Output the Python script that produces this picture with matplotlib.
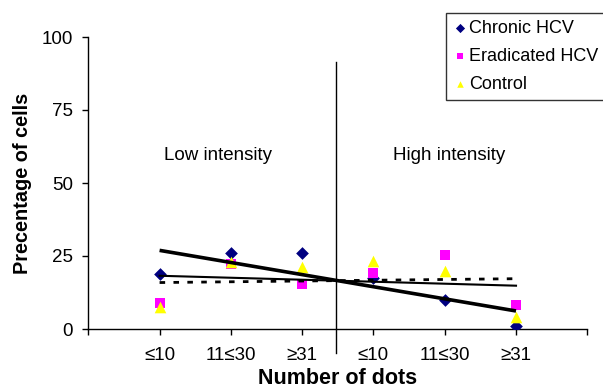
import numpy as np
import matplotlib
matplotlib.use("Agg")
import matplotlib.pyplot as plt

plt.rcParams['font.family'] = ['Liberation Sans', 'DejaVu Sans']

categories = ["≤10", "11≤30", "≥31", "≤10", "11≤30", "≥31"]
chronic = [18.7, 26.1, 26.1, 17.4, 9.9, 1.1]
eradicated = [9.0, 22.2, 15.4, 19.3, 25.3, 8.2]
control = [7.6, 23.0, 21.1, 23.3, 20.0, 4.2]
y_ticks = [0, 25, 50, 75, 100]

x = np.arange(1, len(categories) + 1)

fig = plt.figure(figsize=(6.03, 3.89), dpi=100)
ax = fig.add_axes([88.3 / 603, 1 - 329 / 389, (587.3 - 88.3) / 603, (329 - 37) / 389])

ax.scatter(x, chronic, marker='D', s=42, color='#000080', label='Chronic HCV', zorder=3, linewidths=0)
ax.scatter(x, eradicated, marker='s', s=48, color='#FF00FF', label='Eradicated HCV', zorder=3, linewidths=0)
ax.scatter(x, control, marker='^', s=70, color='#FFFF00', label='Control', zorder=3, linewidths=0)

# linear trend lines
xs = np.array([x[0], x[-1]])
p = np.polyfit(x, chronic, 1)
ax.plot(xs, np.polyval(p, xs), color='black', lw=2.6, zorder=4, solid_capstyle='butt')
p = np.polyfit(x, control, 1)
ax.plot(xs, np.polyval(p, xs), color='black', lw=1.5, zorder=4)
p = np.polyfit(x, eradicated, 1)
ax.plot(xs, np.polyval(p, xs), color='black', lw=2.0, ls=(0, (2, 3)), zorder=4)

# separator
ax.plot([3.47, 3.47], [-8.3, 91.5], color='black', lw=1.0, clip_on=False, zorder=2)

ax.text(1.82, 59.5, 'Low intensity', ha='center', va='center', fontsize=13.5)
ax.text(5.06, 59.5, 'High intensity', ha='center', va='center', fontsize=13.5)

ax.set_xlim(0, 7)
ax.set_ylim(0, 100)
ax.set_xticks(np.arange(0, 8))
ax.set_xticklabels([''] + categories + [''], fontsize=13.5)
ax.set_yticks(y_ticks)
ax.set_yticklabels([str(v) for v in y_ticks], fontsize=13.5)
ax.tick_params(axis='both', direction='out', length=4, width=1, colors='black')
ax.tick_params(axis='x', pad=9)
ax.tick_params(axis='y', pad=7)
for s in ['top', 'right']:
    ax.spines[s].set_visible(False)
for s in ['left', 'bottom']:
    ax.spines[s].set_linewidth(1.0)

ax.set_ylabel('Precentage of cells', fontsize=14.3, fontweight='bold', labelpad=7)
ax.set_xlabel('Number of dots', fontsize=15.5, fontweight='bold', labelpad=3)

leg = ax.legend(loc='upper left', bbox_to_anchor=(446 / 603, 1 - 12.5 / 389),
                bbox_transform=fig.transFigure, frameon=True, fancybox=False,
                fontsize=13.0, handletextpad=0.2, borderpad=0.4, labelspacing=0.62,
                handlelength=0.7, borderaxespad=0)
leg.get_frame().set_edgecolor('black')
leg.get_frame().set_linewidth(1.0)
for h in leg.legend_handles:
    h.set_sizes([22])

fig.savefig('out.png', dpi=100)
